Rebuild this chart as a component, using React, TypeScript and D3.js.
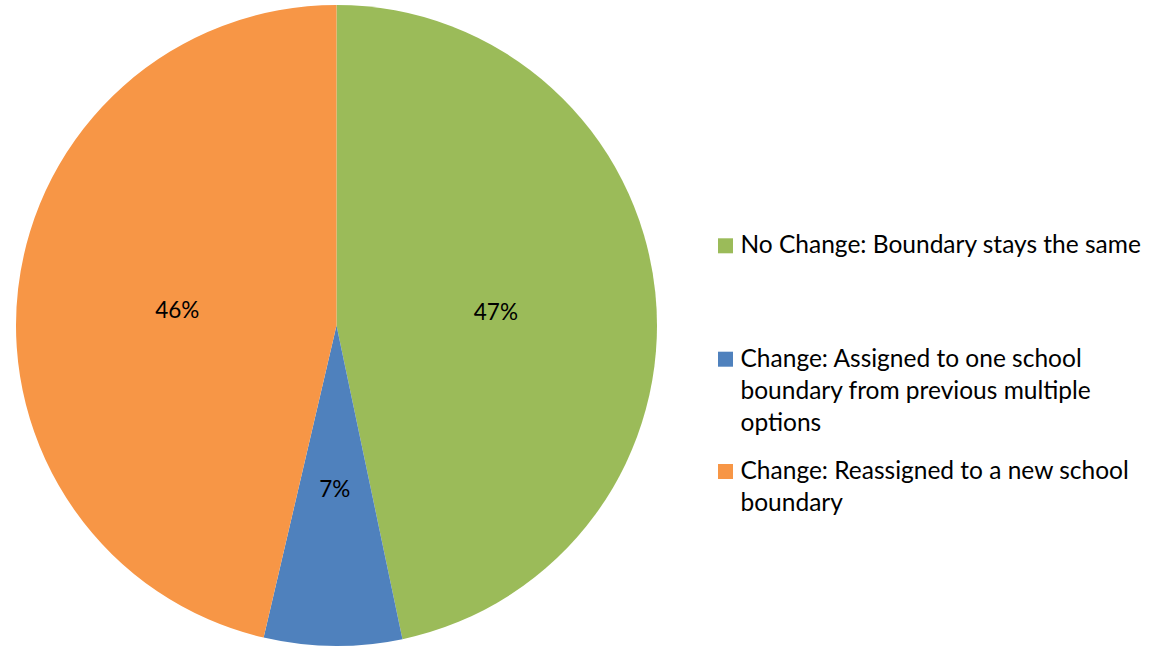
import React from "react";
import * as d3 from "d3";

const categories = [
  "No Change: Boundary stays the same",
  "Change: Assigned to one school boundary from previous multiple options",
  "Change: Reassigned to a new school boundary",
];
const values = [46.7, 6.95, 46.35];
const pctLabels = ["47%", "7%", "46%"];
const colors = ["#9BBB59", "#4F81BD", "#F79646"];
const legendLines = [
  ["No Change: Boundary stays the same"],
  ["Change: Assigned to one school", "boundary from previous multiple", "options"],
  ["Change: Reassigned to a new school", "boundary"],
];

const W = 1151;
const H = 649;
const CX = 336.5;
const CY = 325.5;
const R = 320.5;
const FONT = "Lato, 'Open Sans', sans-serif";

export default function App() {
  const pie = d3
    .pie<number>()
    .sort(null)
    .value((d) => d)
    .startAngle(0)
    .endAngle(2 * Math.PI);
  const arcs = pie(values);
  const arc = d3.arc<d3.PieArcDatum<number>>().innerRadius(0).outerRadius(R);

  const legendX = 718;
  const textX = 740.5;
  const lineH = 32.2;
  const entryTops = [253.3, 366.7, 479];

  return (
    <svg
      width={W}
      height={H}
      style={{ position: "absolute", left: 0, top: 0, background: "#fff" }}
      fontFamily={FONT}
    >
      <g transform={`translate(${CX},${CY})`}>
        {arcs.map((a, i) => (
          <path key={i} d={arc(a) || ""} fill={colors[i]} />
        ))}
        {arcs.map((a, i) => {
          const [x, y] = arc.centroid(a);
          return (
            <text
              key={"l" + i}
              x={x}
              y={y + 11}
              textAnchor="middle"
              fontSize={22.5}
              fill="#000"
            >
              {pctLabels[i]}
            </text>
          );
        })}
      </g>
      {categories.map((c, i) => (
        <g key={c}>
          <rect
            x={legendX}
            y={entryTops[i] - 15}
            width={15}
            height={15}
            fill={colors[i]}
          />
          {legendLines[i].map((ln, j) => (
            <text
              key={j}
              x={textX}
              y={entryTops[i] + j * lineH}
              fontSize={24.5}
              fill="#000"
            >
              {ln}
            </text>
          ))}
        </g>
      ))}
    </svg>
  );
}
